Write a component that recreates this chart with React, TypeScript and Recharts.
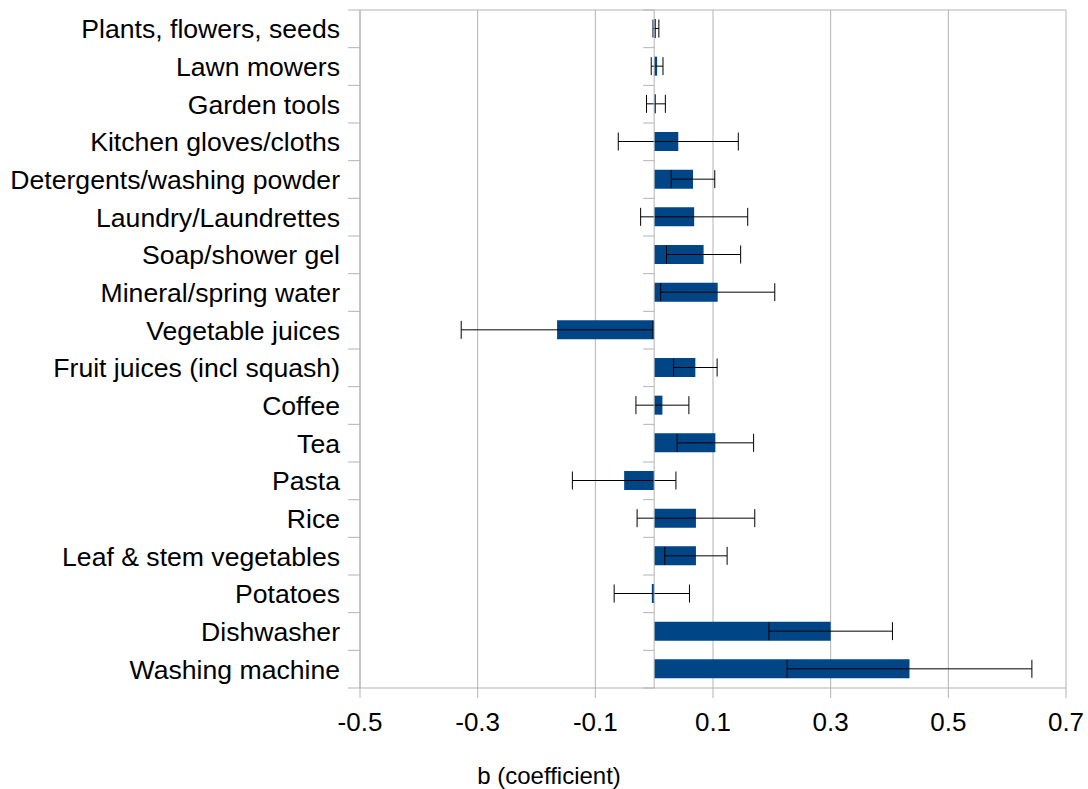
import { BarChart, Bar, XAxis, YAxis, CartesianGrid, ErrorBar, ReferenceLine } from 'recharts';

const categories = [
  'Plants, flowers, seeds',
  'Lawn mowers',
  'Garden tools',
  'Kitchen gloves/cloths',
  'Detergents/washing powder',
  'Laundry/Laundrettes',
  'Soap/shower gel',
  'Mineral/spring water',
  'Vegetable juices',
  'Fruit juices (incl squash)',
  'Coffee',
  'Tea',
  'Pasta',
  'Rice',
  'Leaf & stem vegetables',
  'Potatoes',
  'Dishwasher',
  'Washing machine'
];

const coefficients = [
  0.003, 0.005, 0.003, 0.041, 0.066, 0.068, 0.084, 0.108, -0.165,
  0.070, 0.014, 0.104, -0.051, 0.071, 0.071, -0.004, 0.300, 0.434
];

// half-width of the error bars
const errors = [
  0.005, 0.010, 0.016, 0.102, 0.037, 0.091, 0.063, 0.097, 0.163,
  0.037, 0.045, 0.065, 0.088, 0.100, 0.053, 0.064, 0.105, 0.208
];

const xTicks = [-0.5, -0.3, -0.1, 0.1, 0.3, 0.5, 0.7];

const data = categories.map((name, i) => ({ name, b: coefficients[i], err: errors[i] }));

const GRID = '#b3b3b3';

// axis line with small ticks on the boundaries between categories
function boundaryTicks(len: number) {
  return (props: any) => {
    const { x1, y1, y2 } = props;
    const top = Math.min(y1, y2);
    const bottom = Math.max(y1, y2);
    const step = (bottom - top) / categories.length;
    const marks = [];
    for (let i = 0; i <= categories.length; i++) {
      const y = top + step * i;
      marks.push(<line key={i} x1={x1 - len} x2={x1} y1={y} y2={y} stroke={GRID} strokeWidth={1} />);
    }
    return (
      <g>
        <line x1={x1} x2={x1} y1={top} y2={bottom} stroke={GRID} strokeWidth={1} />
        {marks}
      </g>
    );
  };
}

export default function App() {
  return (
    <div style={{ width: 1088, height: 789, background: '#fff', fontFamily: "'Liberation Sans', Arial, sans-serif" }}>
      <style>{'body{margin:0}'}</style>
      <BarChart
        width={1088}
        height={789}
        data={data}
        layout="vertical"
        margin={{ top: 10, right: 22, left: 0, bottom: 0 }}
      >
        <CartesianGrid
          stroke={GRID}
          horizontalCoordinatesGenerator={({ offset }: any) => [offset.top]}
        />
        <XAxis
          type="number"
          domain={[-0.5, 0.7]}
          ticks={xTicks}
          interval={0}
          height={101}
          tickSize={10}
          tickMargin={15}
          axisLine={{ stroke: GRID }}
          tickLine={{ stroke: GRID }}
          tick={{ fill: '#000', fontSize: 26 }}
          label={{
            value: 'b (coefficient)',
            position: 'insideBottom',
            offset: 5,
            dx: -164,
            fill: '#000',
            fontSize: 24
          }}
        />
        <YAxis
          type="category"
          dataKey="name"
          width={360}
          interval={0}
          tickLine={false}
          tickSize={0}
          tickMargin={20}
          axisLine={false}
          tick={{ fill: '#000', fontSize: 26.6 }}
        />
        <ReferenceLine x={-0.5} stroke={GRID} shape={boundaryTicks(12)} />
        <Bar dataKey="b" fill="#004586" barSize={19} isAnimationActive={false}>
          <ErrorBar dataKey="err" direction="x" width={9} stroke="#000" strokeWidth={1} isAnimationActive={false} />
        </Bar>
        <ReferenceLine x={0} stroke={GRID} shape={boundaryTicks(11)} />
      </BarChart>
    </div>
  );
}
